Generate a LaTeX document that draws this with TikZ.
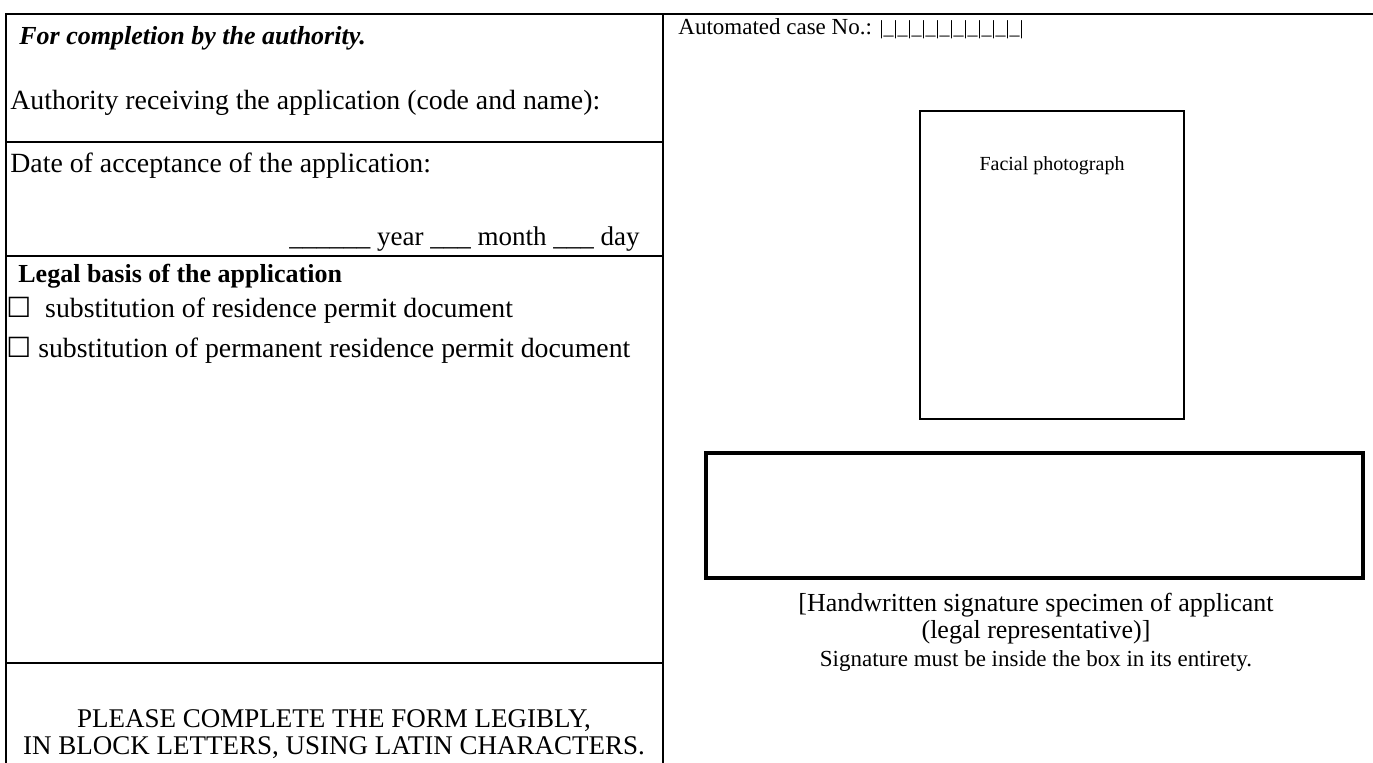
\documentclass[tikz,border=0pt]{standalone}
\usepackage{fontspec}
\setmainfont{Liberation Serif}
\newfontfamily\boxfont{DejaVu Sans}
\usetikzlibrary{positioning}

\tikzset{
  formtext/.style={inner sep=0pt, anchor=base west, font=\fontsize{13.9}{13.5}\selectfont},
  righttext/.style={inner sep=0pt, anchor=base west, font=\fontsize{11.5}{13.5}\selectfont},
  centertext/.style={inner sep=0pt, anchor=base, align=center, font=\fontsize{11.5}{13.5}\selectfont},
  formrule/.style={line width=1pt},
  photobox/.style={draw, line width=1pt, minimum width=132pt, minimum height=154pt, inner sep=0pt},
  sigbox/.style={draw, line width=2pt, minimum width=328.5pt, minimum height=62.5pt, inner sep=0pt}
}

\begin{document}
\begin{tikzpicture}[x=0.5pt, y=-0.5pt]

    \useasboundingbox (0,0) rectangle (1373,763);

    % Frame and rules
    \draw[formrule] (6,763) -- (6,14) -- (1373,14);
    \draw[formrule] (663,14) -- (663,763);
    \draw[formrule] (6,142) -- (663,142);
    \draw[formrule] (6,256) -- (663,256);
    \draw[formrule] (6,663) -- (663,663);

    % Authority part
    \node[formtext, font=\fontsize{13}{13.5}\selectfont\bfseries\itshape] (authhead) at (19,45) {For completion by the authority.};
    \node[formtext] (authname) at (10,110) {Authority receiving the application (code and name):};
    \node[formtext] (datehead) at (10,173) {Date of acceptance of the application:};
    \node[formtext, font=\fontsize{13.5}{13.5}\selectfont, anchor=base east] (datefill) at (640,246) {\_\_\_\_\_\_ year \_\_\_ month \_\_\_ day};

    % Legal basis
    \node[formtext, font=\fontsize{13}{13.5}\selectfont\bfseries] (basishead) at (18,283) {Legal basis of the application};
    \node[formtext] (basisone) at (6,318) {{\boxfont ☐}\ \ substitution of residence permit document};
    \node[formtext] (basistwo) at (6,358) {{\boxfont ☐}\ substitution of permanent residence permit document};

    % Notice
    \node[centertext, font=\fontsize{13.5}{13.5}\selectfont] (notice) at (334,755) {PLEASE COMPLETE THE FORM LEGIBLY,\\IN BLOCK LETTERS, USING LATIN CHARACTERS.};

    % Right part
    \node[righttext] (caseno) at (678,35) {Automated case No.: {\fontsize{10}{12}\selectfont |\_|\_|\_|\_|\_|\_|\_|\_|\_|\_|}};
    \node[photobox] (photo) at (1052,265) {};
    \node[centertext, font=\fontsize{10}{12}\selectfont] (phototext) at (1052,171) {Facial photograph};
    \node[sigbox] (signature) at (1034.5,515.5) {};
    \node[centertext, font=\fontsize{13}{13.5}\selectfont] (sigtext) at (1036,639) {[Handwritten signature specimen of applicant\\(legal representative)]};
    \node[centertext] (signote) at (1036,667) {Signature must be inside the box in its entirety.};

\end{tikzpicture}
\end{document}
